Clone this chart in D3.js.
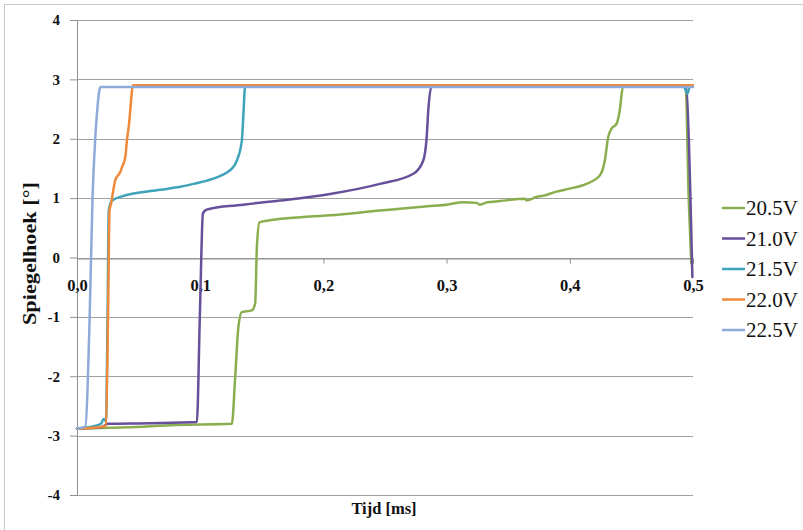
<!DOCTYPE html>
<html>
<head>
<meta charset="utf-8">
<script src="https://cdn.jsdelivr.net/npm/d3@7"></script>
<style>
  html, body { margin: 0; padding: 0; background: #fff; }
  svg { display: block; }
  svg text { font-family: "Liberation Serif", "Times New Roman", Tinos, "DejaVu Serif", serif !important; }
</style>
</head>
<body>
<svg id="chart" width="803" height="530"></svg>
<script>
// ---- data ----
const seriesNames = ["20.5V", "21.0V", "21.5V", "22.0V", "22.5V"];
const seriesColors = ["#8aae4e", "#66509a", "#3fa3b9", "#ef8a3a", "#8eaad8"];

const t205 = [0, 0.04, 0.08, 0.1257, 0.1284, 0.131, 0.1338, 0.1419, 0.1446, 0.146, 0.1481, 0.1541, 0.1892, 0.2054, 0.2459, 0.2621, 0.2892, 0.3, 0.3135, 0.3243, 0.327, 0.333, 0.3432, 0.3635, 0.3649, 0.373, 0.3784, 0.3892, 0.4, 0.4135, 0.4243, 0.4284, 0.4311, 0.4338, 0.4379, 0.4405, 0.4432, 0.47, 0.494, 0.4965, 0.4986];
const v205 = [-2.88, -2.86, -2.82, -2.80, -2.01, -1.17, -0.92, -0.89, -0.78, 0.17, 0.59, 0.62, 0.69, 0.71, 0.79, 0.82, 0.87, 0.89, 0.93, 0.92, 0.89, 0.93, 0.95, 0.99, 0.96, 1.02, 1.04, 1.11, 1.16, 1.24, 1.38, 1.63, 2.02, 2.17, 2.25, 2.47, 2.88, 2.89, 2.89, 1.0, -0.1];

const t210 = [0, 0.02, 0.025, 0.06, 0.0973, 0.0997, 0.1022, 0.104, 0.1081, 0.13, 0.1649, 0.2054, 0.2459, 0.273, 0.281, 0.2838, 0.2851, 0.2878, 0.494, 0.4995];
const v210 = [-2.88, -2.86, -2.80, -2.79, -2.77, -1.0, 0.74, 0.79, 0.82, 0.88, 0.96, 1.07, 1.24, 1.41, 1.63, 2.02, 2.47, 2.89, 2.89, -0.33];

const t215 = [0, 0.012, 0.0195, 0.0216, 0.0235, 0.0248, 0.0258, 0.0275, 0.031, 0.0351, 0.0675, 0.0838, 0.0945, 0.1135, 0.1189, 0.1243, 0.1297, 0.1338, 0.1351, 0.1365, 0.4925, 0.4955, 0.4975, 0.5];
const v215 = [-2.88, -2.85, -2.80, -2.72, -2.76, -1.0, 0.79, 0.93, 0.99, 1.02, 1.14, 1.19, 1.24, 1.35, 1.40, 1.47, 1.63, 1.97, 2.42, 2.88, 2.88, 2.76, 2.88, 2.88];

const t220 = [0, 0.01, 0.02, 0.0235, 0.0252, 0.0264, 0.0276, 0.031, 0.0351, 0.0365, 0.0392, 0.0405, 0.0424, 0.0432, 0.0454, 0.5];
const v220 = [-2.88, -2.87, -2.85, -2.84, -1.0, 0.79, 0.9, 1.3, 1.44, 1.52, 1.69, 1.97, 2.28, 2.47, 2.9, 2.9];

const t225 = [0, 0.0067, 0.0102, 0.0126, 0.0148, 0.0165, 0.019, 0.5];
const v225 = [-2.88, -2.85, -1.06, 1.0, 2.0, 2.5, 2.87, 2.87];

const xTickValues = [0, 0.1, 0.2, 0.3, 0.4, 0.5];
const xTickLabels = ["0,0", "0,1", "0,2", "0,3", "0,4", "0,5"];
const yTickValues = [-4, -3, -2, -1, 0, 1, 2, 3, 4];
const yTickLabels = ["-4", "-3", "-2", "-1", "0", "1", "2", "3", "4"];

const xTitle = "Tijd [ms]";
const yTitle = "Spiegelhoek [°]";

// ---- chart ----
const FONT = "'Liberation Serif', 'Times New Roman', serif";
const svg = d3.select("#chart");
const x = d3.scaleLinear().domain([0, 0.5]).range([77, 693]);
const y = d3.scaleLinear().domain([-4, 4]).range([495, 20]);

// outer frame
svg.append("rect").attr("x", 4.5).attr("y", 4.5).attr("width", 820).attr("height", 560)
  .attr("fill", "none").attr("stroke", "#c8c8c8").attr("stroke-width", 1);

// gridlines
svg.append("g").selectAll("line").data(yTickValues).join("line")
  .attr("x1", x(0)).attr("x2", x(0.5))
  .attr("y1", d => Math.round(y(d)) + 0.5).attr("y2", d => Math.round(y(d)) + 0.5)
  .attr("stroke", "#a0a0a0").attr("stroke-width", 1);

// y axis
const yAxis = svg.append("g").attr("transform", `translate(${x(0)},0)`)
  .call(d3.axisLeft(y).tickValues(yTickValues).tickSize(7).tickSizeOuter(0).tickPadding(10)
    .tickFormat((d, i) => yTickLabels[i]));
yAxis.attr("font-family", null);
yAxis.select(".domain").attr("stroke", "#909090");
yAxis.selectAll(".tick line").attr("stroke", "#909090");
yAxis.selectAll("text").style("font-family", FONT)
  .style("font-weight", "bold").style("font-size", "15px").attr("fill", "#111");

// x axis at y = 0
const xAxis = svg.append("g").attr("transform", `translate(0,${Math.round(y(0)) + 0.5})`)
  .call(d3.axisBottom(x).tickValues(xTickValues).tickSize(5).tickSizeOuter(0)
    .tickFormat((d, i) => xTickLabels[i]));
xAxis.attr("font-family", null);
xAxis.select(".domain").attr("stroke", "#909090");
xAxis.selectAll(".tick line").attr("stroke", "#909090");
xAxis.selectAll("text").attr("y", 32).attr("dy", 0)
  .style("font-family", FONT)
  .style("font-weight", "bold").style("font-size", "16.5px").attr("fill", "#111");

// series
const allT = [t205, t210, t215, t220, t225];
const allV = [v205, v210, v215, v220, v225];
const line = d3.line().x(d => x(d[0])).y(d => y(d[1])).curve(d3.curveMonotoneX);
seriesNames.forEach((name, i) => {
  const pts = allT[i].map((t, j) => [t, allV[i][j]]);
  svg.append("path").datum(pts).attr("d", line)
    .attr("fill", "none").attr("stroke", seriesColors[i])
    .attr("stroke-width", 2.5).attr("stroke-linejoin", "round").attr("stroke-linecap", "round");
});

// legend
const legend = svg.append("g");
seriesNames.forEach((name, i) => {
  const cy = 208 + i * 30.5;
  legend.append("line").attr("x1", 722).attr("x2", 745).attr("y1", cy).attr("y2", cy)
    .attr("stroke", seriesColors[i]).attr("stroke-width", 2.5);
  legend.append("text").attr("x", 746).attr("y", cy).attr("dy", "0.35em")
    .style("font-family", FONT)
    .style("font-size", "21px").attr("fill", "#111").text(name);
});

// axis titles
svg.append("text").attr("x", 384).attr("y", 514).attr("text-anchor", "middle")
  .style("font-family", FONT)
  .style("font-weight", "bold").style("font-size", "16.5px").attr("fill", "#111").text(xTitle);

svg.append("text").attr("transform", "translate(36,253.5) rotate(-90)")
  .attr("text-anchor", "middle")
  .style("font-family", FONT)
  .style("font-weight", "bold").style("font-size", "19px").attr("fill", "#111")
  .attr("textLength", 143).attr("lengthAdjust", "spacingAndGlyphs").text(yTitle);
</script>
</body>
</html>
